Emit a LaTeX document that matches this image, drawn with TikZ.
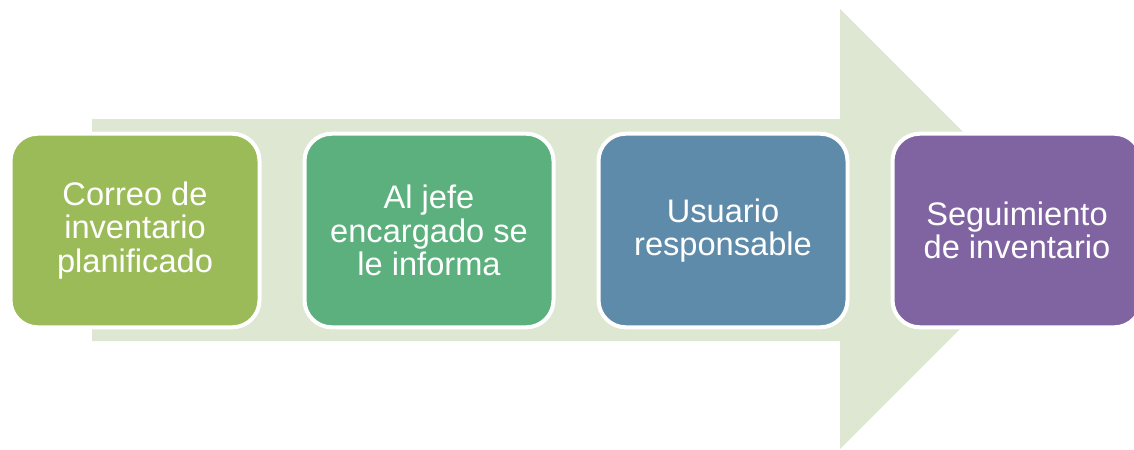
\documentclass[tikz,border=0pt]{standalone}
\usepackage{fontspec}
\setmainfont{Liberation Sans}
\usetikzlibrary{positioning}
\definecolor{arrowfill}{HTML}{DEE7D1}
\definecolor{boxone}{HTML}{9BBB59}
\definecolor{boxtwo}{HTML}{5BB07D}
\definecolor{boxthree}{HTML}{5F8BAA}
\definecolor{boxfour}{HTML}{8064A2}
\begin{document}
\begin{tikzpicture}[y=-1cm,
  stepbox/.style={draw=white,line width=0.1cm,outer sep=0pt,inner sep=0pt,
    rounded corners=0.68cm,minimum width=6.225cm,minimum height=4.84cm,
    text=white,align=center,font=\fontsize{23.2}{23.6}\selectfont}]

% objects at depth 50:
\useasboundingbox (0,0) rectangle (28.35,11.225);
\fill[arrowfill] (2.3,2.98) -- (21.0,2.98) -- (21.0,0.225) -- (26.5,5.725) -- (21.0,11.225) -- (21.0,8.525) -- (2.3,8.525) -- cycle;
\path (3.375,5.7625) node[stepbox,fill=boxone] (correo) {Correo de\\inventario\\planificado};
\node[stepbox,fill=boxtwo,right=1.125cm of correo] (jefe) {Al jefe\\encargado se\\le informa};
\node[stepbox,fill=boxthree,right=1.125cm of jefe] (usuario) {Usuario\\responsable};
\node[stepbox,fill=boxfour,right=1.125cm of usuario] (seguimiento) {Seguimiento\\de inventario};

\end{tikzpicture}
\end{document}
